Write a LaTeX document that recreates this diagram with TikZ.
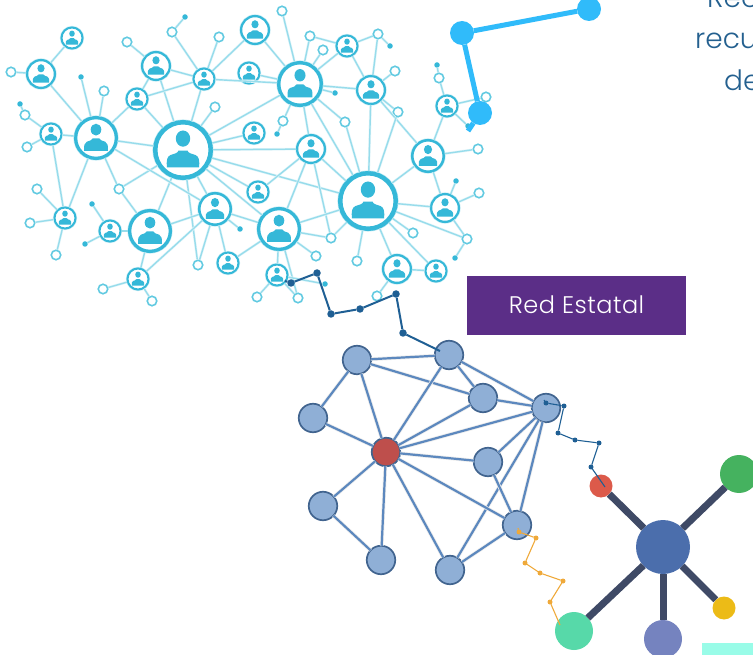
\documentclass[tikz,border=0pt]{standalone}
\usepackage{fontspec}
\setmainfont{Poppins Light}
\definecolor{cyring}{HTML}{35B8D8}
\definecolor{cyline}{HTML}{97DCEB}
\definecolor{cyopen}{HTML}{62CAE1}
\definecolor{skyb}{HTML}{30BBFA}
\definecolor{chainb}{HTML}{1F5F94}
\definecolor{chaino}{HTML}{EFA93A}
\definecolor{nfill}{HTML}{8FAFD6}
\definecolor{nbord}{HTML}{41648F}
\definecolor{nline}{HTML}{5C88BE}
\definecolor{nred}{HTML}{BE4F4C}
\definecolor{spoke}{HTML}{3F4A66}
\definecolor{boxp}{HTML}{5B2E87}
\definecolor{txtb}{HTML}{24608F}
\definecolor{hubc}{HTML}{4B6EAC}
\definecolor{stara}{HTML}{DC5A4A}
\definecolor{starb}{HTML}{45B25F}
\definecolor{starc}{HTML}{ECBB17}
\definecolor{stard}{HTML}{57D9A9}
\definecolor{stare}{HTML}{7583BF}
\definecolor{crectc}{HTML}{99FCE8}
\tikzset{
  x=1pt,y=-1pt,
  opennode/.style={circle,draw=cyopen,fill=white,line width=1.6pt,minimum size=9.5pt,inner sep=0pt},
  soliddot/.style={circle,fill=cyring,minimum size=5.5pt,inner sep=0pt,outer sep=0pt},
  cyedge/.style={draw=cyline,line width=1.4pt,preaction={draw=cyline!25,line width=2.6pt}},
  netnode/.style={circle,draw=nbord,fill=nfill,line width=1.7pt,minimum size=28.5pt,inner sep=0pt,outer sep=0pt},
  netedge/.style={draw=nline,line width=2.2pt,preaction={draw=black!7,line width=3.8pt}},
  chaindotb/.style={circle,fill=chainb,minimum size=#1,inner sep=0pt,outer sep=0pt},
  chaindoto/.style={circle,fill=chaino,minimum size=5pt,inner sep=0pt,outer sep=0pt},
  skydot/.style={circle,fill=skyb,minimum size=24pt,inner sep=0pt,outer sep=0pt},
  starnode/.style={circle,fill=#1,inner sep=0pt,outer sep=0pt},
  spokeedge/.style={draw=spoke,line width=7pt},
  personicon/.style={fill=cyring,draw=none}
}
% name, x, y, radius
\newcommand{\personnode}[4]{%
  \pgfmathsetmacro{\ringw}{max(2,0.15*#4)}%
  \node[circle,draw=cyring,fill=white,line width=\ringw pt,minimum size=2*#4 pt-\ringw pt,inner sep=0pt,preaction={draw=cyring!30,line width=\ringw pt+1.2pt}] (#1) at (#2,#3) {};
  \begin{scope}[shift={(#2,#3)},x=#4pt,y=-#4pt]
    \fill[personicon] (0,-0.38) ellipse [x radius=0.24,y radius=0.27];
    \fill[personicon] (-0.54,0.58) .. controls (-0.55,0.35) and (-0.54,0.22) .. (-0.42,0.17)
      .. controls (-0.30,0.12) and (-0.18,0.12) .. (-0.15,0.02) -- (0.15,0.02)
      .. controls (0.18,0.12) and (0.30,0.12) .. (0.42,0.17)
      .. controls (0.54,0.22) and (0.55,0.35) .. (0.54,0.58) -- cycle;
  \end{scope}
}
\begin{document}
\begin{tikzpicture}
\useasboundingbox (0,0) rectangle (753,655);
\begin{scope}
\clip (0,0) rectangle (753,655);
% people network: large
\personnode{a}{183}{150}{30}
\personnode{b}{368}{201}{30}
\personnode{c}{96}{138}{22}
\personnode{d}{300}{84}{23}
\personnode{e}{150}{231}{22}
\personnode{f}{279}{229}{22}
\personnode{g}{215}{209}{17}
% small
\personnode{sa}{41}{74}{15}
\personnode{sb}{72}{38}{11.5}
\personnode{sc}{156}{66}{15}
\personnode{sd}{137}{99}{11.5}
\personnode{se}{204}{79}{11.5}
\personnode{sf}{255}{30}{15}
\personnode{sg}{249}{73}{11.5}
\personnode{sh}{347}{46}{11.5}
\personnode{si}{371}{90}{15}
\personnode{sj}{254}{133}{11.5}
\personnode{sk}{311}{149}{15}
\personnode{sl}{51}{134}{11.5}
\personnode{sm}{447}{106}{11.5}
\personnode{sn}{428}{156}{17}
\personnode{so}{445}{208}{15}
\personnode{sp}{258}{192}{11.5}
\personnode{sq}{65}{218}{11.5}
\personnode{sr}{110}{231}{11.5}
\personnode{ss}{138}{279}{11.5}
\personnode{st}{228}{263}{11.5}
\personnode{su}{277}{275}{11.5}
\personnode{sv}{397}{269}{15}
\personnode{sw}{436}{271}{11.5}
% open circles
\foreach \n/\x/\y in {oa/11/72,ob/127/42,oc/172/32,od/219/37,oe/104/91,of/25/115,og/27/147,oh/215/107,
  oi/37/189,oj/30/223,ok/56/255,ol/119/189,om/198/265,on/103/289,oo/152/301,
  op/282/11,oq/310/36,or/323/50,os/378/34,ot/395/71,ou/398/112,ov/345/122,ow/283/121,
  ox/439/78,oy/486/97,oz/478/149,
  pa/331/238,pb/316/256,pc/357/261,pd/413/233,pe/467/239,pf/479/193,pg/257/297,ph/298/298,pi/377/296}
  {\node[opennode] (\n) at (\x,\y) {};}
% solid dots
\foreach \n/\x/\y in {qa/185/17,qb/81/77,qc/20/104,qd/390/46,qe/335/93,qf/277/134,qg/437/65,qh/468/126,
  qi/92/204,qj/85/244,qk/240/229,ql/456/181,qm/455/258,qn/325/284}
  {\node[soliddot] (\n) at (\x,\y) {};}
% light edges
\foreach \u/\v in {sa/sb,sa/oa,sa/c,c/qb,c/oe,c/sd,c/a,c/sl,sl/of,sl/og,qc/of,sd/sc,sc/ob,sc/se,sc/a,sd/se,sd/a,
  se/oc,oc/qa,se/od,se/sf,se/a,se/d,a/oh,a/d,a/sj,sg/d,sf/d,op/d,oq/d,or/d,d/sh,oq/sh,os/sh,os/si,os/qd,sh/si,
  d/qe,d/si,si/ot,si/ou,si/sn,si/b,ou/b,ov/b,ov/d,d/ow,ow/qf,d/sk,d/b,a/sk,a/b,a/g,a/e,a/f,a/ol,a/om,e/g,e/ol,c/ol,
  c/sq,sl/sq,sq/oi,sq/oj,sq/ok,e/sr,sr/qi,sr/qj,e/ss,ss/on,ss/oo,ss/g,g/om,g/st,g/qk,g/f,c/g,sp/sk,f/sk,sk/pa,sk/b,
  f/b,f/pa,f/pb,f/su,f/ph,su/qn,su/pg,su/ph,st/f,b/pa,b/pc,b/sv,b/sw,b/pd,b/pe,b/so,b/sn,sn/oz,sn/so,so/pf,so/ql,so/pe,
  pe/qm,sv/sw,sv/pi,sn/sm,sm/ox,ox/qg,sm/oy,sm/qh,a/sp}
  {\draw[cyedge] (\u) -- (\v);}
% sky blue path
\node[skydot] (ba) at (462,33) {};
\node[skydot] (bb) at (589,9) {};
\node[skydot] (bc) at (480,113) {};
\coordinate (bt) at (468,131);
\draw[skyb,line width=5pt] (bb) -- (ba) -- (bc) -- (bt);
% dark chain top
\coordinate (ca) at (285,281);
\foreach \n/\x/\y in {cb/291/283,cc/317/273,cd/331/314,ce/360/309,cf/396/294,cg/403/333}
  {\node[chaindotb=7.5pt] (\n) at (\x,\y) {};}
% blue network
\foreach \n/\x/\y in {nb/357/360,nc/449/355,nd/483/398,ne/546/408,nf/313/418,ng/488/462,nh/323/506,ni/381/560,nj/450/570,nk/517/525}
  {\node[netnode] (\n) at (\x,\y) {};}
\node[netnode,fill=nred] (nr) at (386,452) {};
\foreach \u/\v in {nb/nc,nb/nd,nb/nf,nb/nr,nc/nr,nc/nd,nc/ne,nd/ne,nd/nr,ne/nr,ne/ng,ne/nj,ne/nk,nr/ng,nf/nr,nr/nh,nr/ni,nr/nj,nr/nk,nh/ni,ng/nk,nj/nk}
  {\draw[netedge] (\u) -- (\v);}
\coordinate (ch) at (440,351);
\draw[chainb,line width=2pt] (ca) -- (cb) -- (cc) -- (cd) -- (ce) -- (cf) -- (cg) -- (ch);
% star
\node[starnode=hubc,minimum size=54pt] (hub) at (663,547) {};
\node[starnode=stara,minimum size=23pt] (sra) at (601,486) {};
\node[starnode=starb,minimum size=38pt] (srb) at (739,474) {};
\node[starnode=starc,minimum size=23pt] (src) at (724,608) {};
\node[starnode=stard,minimum size=38pt] (srd) at (574,631) {};
\node[starnode=stare,minimum size=38pt] (sre) at (663,639) {};
\foreach \v in {sra,srb,src,srd,sre} {\draw[spokeedge] (hub) -- (\v);}
% thin chains
\coordinate (da) at (544,400);
\coordinate (dh) at (605,487);
\foreach \n/\x/\y in {db/546/403,dc/564/406,dd/558/433,de/575/440,df/599/443,dg/591/467}
  {\node[chaindotb=5pt] (\n) at (\x,\y) {};}
\draw[chainb,line width=1.1pt] (da) -- (db) -- (dc) -- (dd) -- (de) -- (df) -- (dg) -- (dh);
\coordinate (ea) at (518,528);
\coordinate (eh) at (560,625);
\foreach \n/\x/\y in {eb/519/532,ec/536/538,ed/525/563,ee/540/573,ef/563/581,eg/550/602}
  {\node[chaindoto] (\n) at (\x,\y) {};}
\draw[chaino,line width=1.1pt] (ea) -- (eb) -- (ec) -- (ed) -- (ee) -- (ef) -- (eg) -- (eh);
% box
\node[fill=boxp,minimum width=219pt,minimum height=59pt,inner sep=0pt,text=white,font=\fontsize{24}{28}\selectfont\addfontfeatures{LetterSpace=2}] (redbox) at (576.5,305.5) {\raisebox{1pt}{Red Estatal}};
% cropped text
\node[anchor=base west,inner sep=0pt,text=txtb,font=\fontsize{28}{32}\selectfont] (ta) at (707,8) {Rec};
\node[anchor=base west,inner sep=0pt,text=txtb,font=\fontsize{28}{32}\selectfont] (tb) at (695,49) {recu};
\node[anchor=base west,inner sep=0pt,text=txtb,font=\fontsize{28}{32}\selectfont] (tc) at (724,91) {de};
% corner rectangle
\node[fill=crectc,minimum width=51pt,minimum height=12pt,inner sep=0pt,anchor=north west] (crect) at (702,643) {};
\end{scope}
\end{tikzpicture}
\end{document}
